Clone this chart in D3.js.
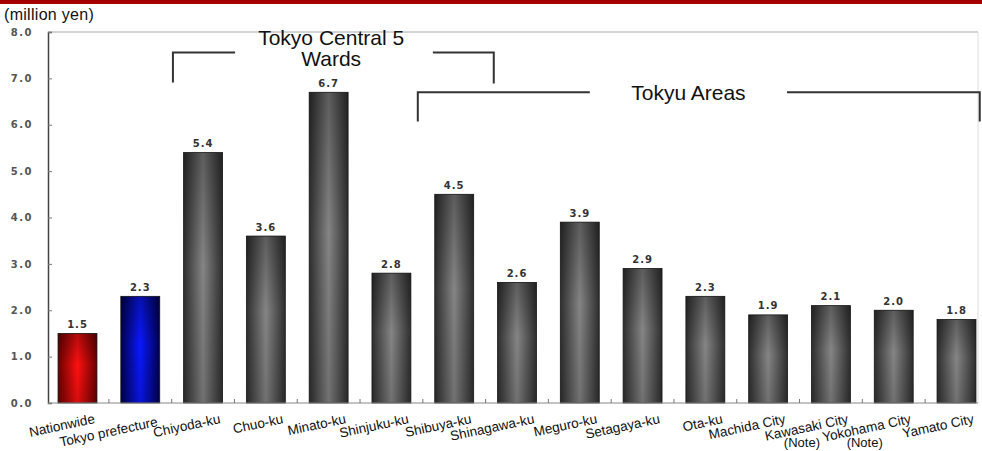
<!DOCTYPE html>
<html>
<head>
<meta charset="utf-8">
<script src="https://cdn.jsdelivr.net/npm/d3@7"></script>
<style>
    body { margin: 0; background: #fff; }
    svg { display: block; }
</style>
</head>
<body>
<svg id="chart" width="982" height="451"></svg>
<script>
const categories = ["Nationwide", "Tokyo prefecture", "Chiyoda-ku", "Chuo-ku", "Minato-ku",
    "Shinjuku-ku", "Shibuya-ku", "Shinagawa-ku", "Meguro-ku", "Setagaya-ku",
    "Ota-ku", "Machida City", "Kawasaki City", "Yokohama City", "Yamato City"];
const notes = ["", "", "", "", "", "", "", "", "", "", "", "", "(Note)", "(Note)", ""];
const values = [1.5, 2.3, 5.4, 3.6, 6.7, 2.8, 4.5, 2.6, 3.9, 2.9, 2.3, 1.9, 2.1, 2.0, 1.8];
const barKinds = ["red", "blue", "grey", "grey", "grey", "grey", "grey", "grey", "grey", "grey",
    "grey", "grey", "grey", "grey", "grey"];
const yTicks = [0, 1, 2, 3, 4, 5, 6, 7, 8];
const unitLabel = "(million yen)";

// group brackets, in band index / value units
const groupLabels = [
    {lines: ["Tokyo Central 5", "Wards"], x: 4.04, y: 7.71},
    {lines: ["Tokyu Areas"], x: 9.73, y: 6.54}
];
const brackets = [
    {x0: 1.52, x1: 2.51, top: 7.56, bottom: 6.91, side: "left"},
    {x0: 5.66, x1: 6.63, top: 7.56, bottom: 6.89, side: "right"},
    {x0: 5.42, x1: 8.16, top: 6.70, bottom: 6.07, side: "left"},
    {x0: 11.30, x1: 14.37, top: 6.70, bottom: 6.07, side: "right"}
];

const svg = d3.select('#chart');
const plotLeft = 48, plotRight = 978, plotTop = 32, plotBottom = 403;

const xScale = d3.scaleBand()
    .domain(categories)
    .range([46.1, 987.9])
    .paddingInner(0.38)
    .paddingOuter(0.19);

const yScale = d3.scaleLinear()
    .domain([0, 8])
    .range([plotBottom, plotTop]);

const step = xScale.step();
const xIdx = i => xScale.range()[0] + step * (i + 0.5);

// gradients
const defs = svg.append('defs');
const gradients = {
    red: ['#6a0000', '#ff1010'],
    blue: ['#00004e', '#0a18ff'],
    grey: ['#2e2e2e', '#858585']
};
Object.entries(gradients).forEach(([name, [edge, mid]]) => {
    const grad = defs.append('linearGradient')
        .attr('id', `grad-${name}`)
        .attr('x1', 0).attr('x2', 1).attr('y1', 0).attr('y2', 0);
    grad.append('stop').attr('offset', '0%').attr('stop-color', edge);
    grad.append('stop').attr('offset', '50%').attr('stop-color', mid);
    grad.append('stop').attr('offset', '100%').attr('stop-color', edge);
});
const shade = defs.append('linearGradient')
    .attr('id', 'shade')
    .attr('x1', 0).attr('x2', 0).attr('y1', 0).attr('y2', 1);
shade.append('stop').attr('offset', '0%').attr('stop-color', '#000').attr('stop-opacity', 0.3);
shade.append('stop').attr('offset', '45%').attr('stop-color', '#000').attr('stop-opacity', 0);
shade.append('stop').attr('offset', '100%').attr('stop-color', '#000').attr('stop-opacity', 0.15);

// top red strip
svg.append('rect')
    .attr('x', 0).attr('y', 0)
    .attr('width', 982).attr('height', 4)
    .attr('fill', '#a60000');

svg.append('text')
    .attr('x', 4).attr('y', 20)
    .style('font-family', 'Arial, "Liberation Sans", sans-serif')
    .style('font-size', '16px')
    .style('letter-spacing', '0.3px')
    .attr('fill', '#111')
    .text(unitLabel);

// frame
svg.append('line')
    .attr('x1', plotLeft).attr('x2', plotRight).attr('y1', plotTop).attr('y2', plotTop)
    .attr('stroke', '#aaa');
svg.append('line')
    .attr('x1', plotRight).attr('x2', plotRight).attr('y1', plotTop).attr('y2', plotBottom)
    .attr('stroke', '#ddd');

// bars
const data = categories.map((c, i) => ({cat: c, value: values[i], kind: barKinds[i], note: notes[i]}));

svg.selectAll('.bar')
    .data(data)
    .join('rect')
        .classed('bar', true)
        .attr('x', d => xScale(d.cat))
        .attr('y', d => yScale(d.value))
        .attr('width', xScale.bandwidth())
        .attr('height', d => yScale(0) - yScale(d.value))
        .attr('fill', d => `url(#grad-${d.kind})`)
        .attr('stroke', '#1a1a1a')
        .attr('stroke-width', 0.8);

svg.selectAll('.barShade')
    .data(data)
    .join('rect')
        .classed('barShade', true)
        .attr('x', d => xScale(d.cat))
        .attr('y', d => yScale(d.value))
        .attr('width', xScale.bandwidth())
        .attr('height', d => yScale(0) - yScale(d.value))
        .attr('fill', 'url(#shade)');

svg.selectAll('.valueLabel')
    .data(data)
    .join('text')
        .classed('valueLabel', true)
        .attr('x', d => xScale(d.cat) + xScale.bandwidth() / 2)
        .attr('y', d => yScale(d.value) - 5.5)
        .attr('text-anchor', 'middle')
        .style('font-family', '"DejaVu Sans", sans-serif')
        .style('font-weight', 'bold')
        .style('font-size', '10px')
        .style('letter-spacing', '1px')
        .attr('fill', '#333')
        .text(d => d3.format('.1f')(d.value));

// y axis
const yAxisGroup = svg.append('g')
    .attr('transform', `translate(${plotLeft}, 0)`)
    .call(d3.axisLeft(yScale)
        .tickValues(yTicks)
        .tickSize(-4)
        .tickPadding(15)
        .tickFormat(d3.format('.1f')));
yAxisGroup.select('.domain').attr('stroke', '#444').attr('stroke-width', 1.5);
yAxisGroup.selectAll('.tick line').attr('stroke', '#777');
yAxisGroup.selectAll('.tick text')
    .style('font-family', '"DejaVu Sans", sans-serif')
    .style('font-weight', 'bold')
    .style('font-size', '10px')
    .style('letter-spacing', '1.5px')
    .attr('fill', '#555');

// x axis line and ticks between bars
svg.append('line')
    .attr('x1', plotLeft).attr('x2', plotRight).attr('y1', plotBottom).attr('y2', plotBottom)
    .attr('stroke', '#888');
svg.selectAll('.xTick')
    .data(categories.slice(1))
    .join('line')
        .classed('xTick', true)
        .attr('x1', d => xScale(d) - step * 0.19)
        .attr('x2', d => xScale(d) - step * 0.19)
        .attr('y1', plotBottom)
        .attr('y2', plotBottom - 4)
        .attr('stroke', '#777');

// category labels
svg.selectAll('.catLabel')
    .data(data)
    .join('text')
        .classed('catLabel', true)
        .attr('transform', (d, i) => `translate(${xScale(d.cat) + xScale.bandwidth() / 2 + 18}, ${i === 1 ? 426 : 423}) rotate(-12)`)
        .attr('text-anchor', 'end')
        .style('font-family', 'Arial, "Liberation Sans", sans-serif')
        .style('font-size', '13.5px')
        .attr('fill', '#111')
        .text(d => d.cat);

svg.selectAll('.noteLabel')
    .data(data.filter(d => d.note))
    .join('text')
        .classed('noteLabel', true)
        .attr('x', d => xScale(d.cat) + xScale.bandwidth() / 2 - 29)
        .attr('y', 447)
        .attr('text-anchor', 'middle')
        .style('font-family', 'Arial, "Liberation Sans", sans-serif')
        .style('font-size', '13px')
        .attr('fill', '#111')
        .text(d => d.note);

// group brackets
svg.selectAll('.bracket')
    .data(brackets)
    .join('path')
        .classed('bracket', true)
        .attr('d', d => {
            const xa = xIdx(d.x0), xb = xIdx(d.x1);
            const yt = yScale(d.top), yb = yScale(d.bottom);
            return d.side === 'left'
                ? `M${xa},${yb}V${yt}H${xb}`
                : `M${xa},${yt}H${xb}V${yb}`;
        })
        .attr('fill', 'none')
        .attr('stroke', '#333')
        .attr('stroke-width', 2);

groupLabels.forEach(g => {
    const t = svg.append('text')
        .attr('x', xIdx(g.x))
        .attr('y', yScale(g.y))
        .attr('text-anchor', 'middle')
        .style('font-family', 'Arial, "Liberation Sans", sans-serif')
        .style('font-size', '21px')
        .attr('fill', '#111');
    g.lines.forEach((line, k) => {
        t.append('tspan')
            .attr('x', xIdx(g.x))
            .attr('dy', k === 0 ? 0 : 21)
            .text(line);
    });
});
</script>
</body>
</html>
